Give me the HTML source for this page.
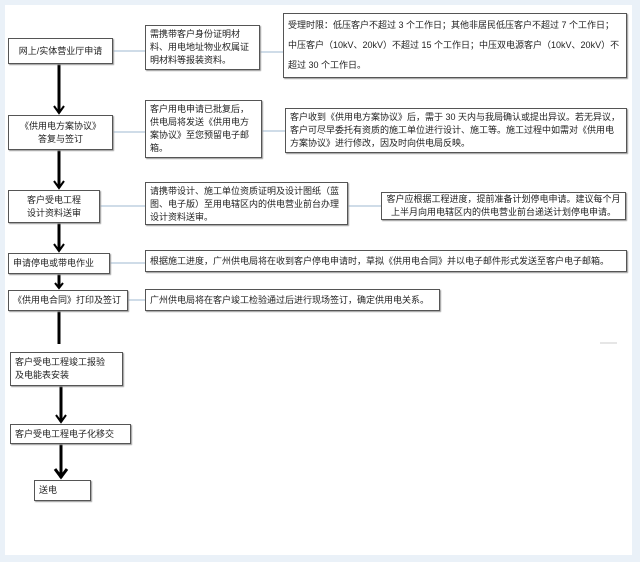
<!DOCTYPE html>
<html><head><meta charset="utf-8"><style>
body{margin:0;width:640px;height:562px;background:#eaf1f8;position:relative;overflow:hidden;font-family:"Liberation Sans","Noto Sans CJK SC",sans-serif;}
#w{position:absolute;left:5px;top:5px;width:627px;height:550px;background:#fff;}
.b{position:absolute;border:1px solid #555;box-shadow:1px 1px 1px #999;background:#fff;font-size:9px;line-height:13px;color:#222;box-sizing:border-box;padding:2px 4px;}
.c{text-align:center;}
svg{position:absolute;left:0;top:0;}
</style></head><body>
<div id="w"></div>
<svg width="640" height="562">
<g stroke="#9fb8d0" stroke-width="1">
<line x1="113" y1="51" x2="145" y2="51"/><line x1="260" y1="52" x2="283" y2="52"/>
<line x1="113" y1="132" x2="145" y2="132"/><line x1="262" y1="131" x2="285" y2="131"/>
<line x1="100" y1="206" x2="145" y2="206"/><line x1="348" y1="206" x2="381" y2="206"/>
<line x1="110" y1="263" x2="145" y2="263"/><line x1="128" y1="300" x2="145" y2="300"/>
</g>
<line x1="600" y1="343" x2="617" y2="343" stroke="#ccc"/>
<g stroke="#000" stroke-width="3" fill="none">
<line x1="59" y1="64" x2="59" y2="113"/><polyline points="54,106 59,113 64,106" stroke-width="2"/>
<line x1="59" y1="150" x2="59" y2="188"/><polyline points="54,181 59,188 64,181" stroke-width="2"/>
<line x1="59" y1="223" x2="59" y2="251"/><polyline points="54,244 59,251 64,244" stroke-width="2"/>
<line x1="59" y1="274" x2="59" y2="288"/><polyline points="55,283 59,288 63,283" stroke-width="2"/>
<line x1="59" y1="311" x2="59" y2="344"/>
<line x1="61" y1="386" x2="61" y2="422"/><polyline points="56,415 61,422 66,415" stroke-width="2"/>
<line x1="61" y1="444" x2="61" y2="478"/><polyline points="55,469 61,477 67,469" stroke-width="3"/>
</g>
</svg>
<div class="b c" style="left:8px;top:38px;width:105px;height:26px;padding-top:6px">网上/实体营业厅申请</div>
<div class="b" style="left:145px;top:25px;width:115px;height:45px">需携带客户身份证明材料、用电地址物业权属证明材料等报装资料。</div>
<div class="b" style="left:283px;top:13px;width:344px;height:65px;line-height:20px;padding-top:1px">受理时限：低压客户不超过 3 个工作日；其他非居民低压客户不超过 7 个工作日；中压客户（10kV、20kV）不超过 15 个工作日；中压双电源客户（10kV、20kV）不超过 30 个工作日。</div>
<div class="b c" style="left:8px;top:115px;width:105px;height:35px;padding-top:4px">《供用电方案协议》<br>答复与签订</div>
<div class="b" style="left:145px;top:100px;width:117px;height:58px">客户用电申请已批复后，供电局将发送《供用电方案协议》至您预留电子邮箱。</div>
<div class="b" style="left:285px;top:108px;width:342px;height:45px">客户收到《供用电方案协议》后，需于 30 天内与我局确认或提出异议。若无异议，客户可尽早委托有资质的施工单位进行设计、施工等。施工过程中如需对《供用电方案协议》进行修改，因及时向供电局反映。</div>
<div class="b c" style="left:8px;top:190px;width:92px;height:33px;padding-top:3px">客户受电工程<br>设计资料送审</div>
<div class="b" style="left:145px;top:182px;width:203px;height:43px">请携带设计、施工单位资质证明及设计图纸（蓝图、电子版）至用电辖区内的供电营业前台办理设计资料送审。</div>
<div class="b c" style="left:381px;top:192px;width:245px;height:28px;padding-top:0">客户应根据工程进度，提前准备计划停电申请。建议每个月上半月向用电辖区内的供电营业前台递送计划停电申请。</div>
<div class="b" style="left:8px;top:253px;width:102px;height:21px;padding-top:3px">申请停电或带电作业</div>
<div class="b" style="left:145px;top:250px;width:482px;height:22px;padding-top:4px">根据施工进度，广州供电局将在收到客户停电申请时，草拟《供用电合同》并以电子邮件形式发送至客户电子邮箱。</div>
<div class="b" style="left:8px;top:290px;width:120px;height:21px;padding-top:3px">《供用电合同》打印及签订</div>
<div class="b" style="left:145px;top:289px;width:295px;height:22px;padding-top:4px">广州供电局将在客户竣工检验通过后进行现场签订，确定供用电关系。</div>
<div class="b" style="left:10px;top:352px;width:113px;height:34px;padding-top:3px">客户受电工程竣工报验<br>及电能表安装</div>
<div class="b" style="left:10px;top:424px;width:121px;height:20px;padding-top:3px">客户受电工程电子化移交</div>
<div class="b" style="left:34px;top:480px;width:57px;height:21px;padding-top:3px">送电</div>
</body></html>
